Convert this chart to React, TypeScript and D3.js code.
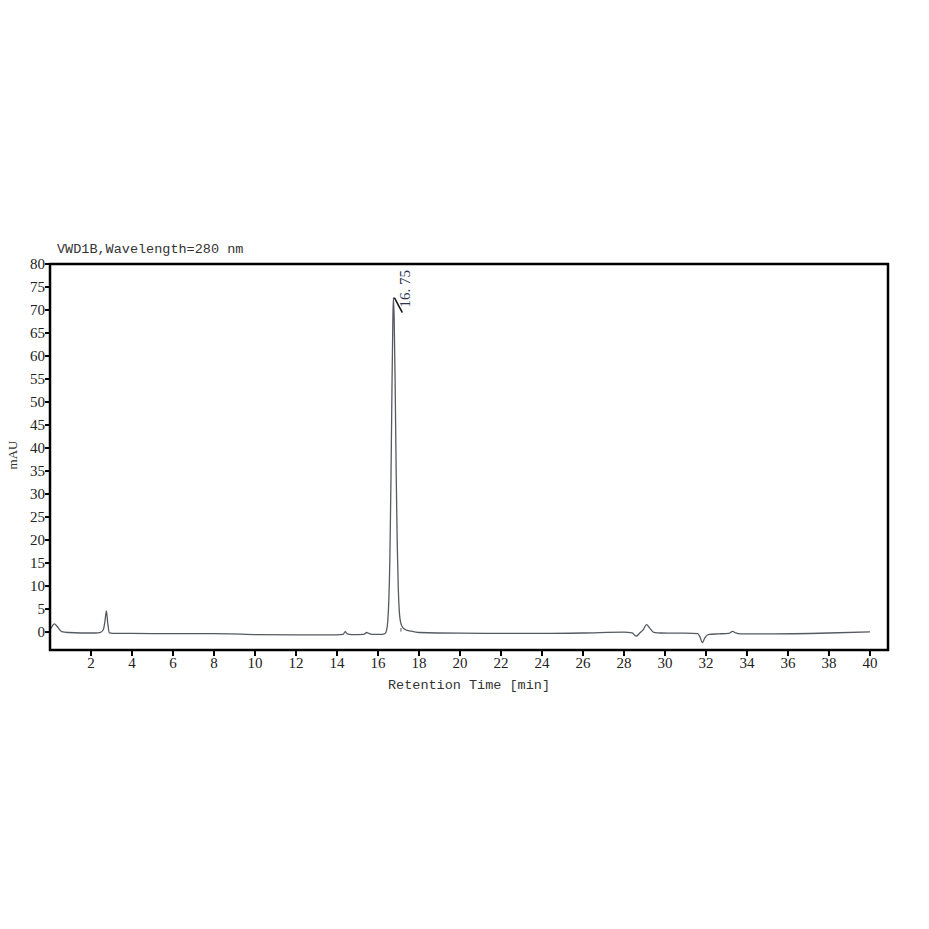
import React from "react";
import * as d3 from "d3";

const times = [0, 0.1, 0.21, 0.35, 0.57, 0.9, 1.5, 2.2, 2.44, 2.6, 2.68, 2.75, 2.82, 2.9, 3.05, 4, 6, 8, 8.8, 10, 12, 14, 14.3, 14.4, 14.5, 14.7, 15.3, 15.45, 15.55, 15.7, 16.2, 16.35, 16.42, 16.48, 16.53, 16.58, 16.63, 16.68, 16.72, 16.75, 16.79, 16.84, 16.89, 16.94, 16.99, 17.04, 17.1, 17.2, 17.35, 17.6, 18, 20, 24, 26, 28, 28.4, 28.6, 28.75, 28.95, 29.1, 29.25, 29.45, 29.8, 31, 31.6, 31.72, 31.82, 31.95, 32.15, 32.6, 33.1, 33.3, 33.45, 33.7, 35, 38, 40];
const values = [0.6, 1.2, 1.8, 1.2, 0.1, -0.1, -0.2, -0.2, -0.1, 0.5, 2.3, 4.6, 1.8, -0.2, -0.3, -0.3, -0.35, -0.35, -0.4, -0.55, -0.6, -0.6, -0.5, 0.1, -0.4, -0.55, -0.5, -0.1, -0.3, -0.5, -0.5, -0.3, 0.4, 2.5, 7, 16, 32, 52, 66, 72.7, 68, 53, 34, 19, 9.5, 4.5, 2.2, 1.0, 0.5, 0.2, -0.1, -0.25, -0.3, -0.2, 0, -0.2, -0.9, -0.3, 0.6, 1.6, 0.9, -0.05, -0.2, -0.25, -0.35, -1.2, -2.3, -1.2, -0.5, -0.4, -0.3, 0.15, -0.2, -0.4, -0.4, -0.2, 0.05];

const xTicks = [2, 4, 6, 8, 10, 12, 14, 16, 18, 20, 22, 24, 26, 28, 30, 32, 34, 36, 38, 40];
const yTicks = [0, 5, 10, 15, 20, 25, 30, 35, 40, 45, 50, 55, 60, 65, 70, 75, 80];
const peakLabels = [{ t: 16.75, v: 72.7, label: "16. 75" }];
const baselineMarks = [17.12];

const title = "VWD1B,Wavelength=280 nm";
const xLabel = "Retention Time [min]";
const yLabel = "mAU";

export default function App() {
  const W = 929, H = 929;
  const left = 50, right = 888, top = 264, bottom = 650;
  const x = d3.scaleLinear().domain([0, 40.88]).range([left, right]);
  const y = d3.scaleLinear().domain([-3.9, 80]).range([bottom, top]);
  const pts = times.map((t, i) => [t, values[i]] as [number, number]);
  const line = d3.line<[number, number]>().x(d => x(d[0])).y(d => y(d[1])).curve(d3.curveMonotoneX);
  const serif = "'Liberation Serif', 'Times New Roman', serif";
  const mono = "'Liberation Mono', 'DejaVu Sans Mono', monospace";
  return (
    <svg width={W} height={H} style={{ position: "absolute", left: 0, top: 0, background: "#fff" }}>
      <rect x={0} y={0} width={W} height={H} fill="#fff" />
      <text x={57} y={253} fontFamily={mono} fontSize={13.5} fill="#333">{title}</text>
      <path d={line(pts) || ""} fill="none" stroke="#555a60" strokeWidth={1.3} />
      {baselineMarks.map((t, i) => (
        <line key={i} x1={x(t)} x2={x(t)} y1={y(0) - 4} y2={y(0.1)} stroke="#555a60" strokeWidth={1} />
      ))}
      {peakLabels.map((p, i) => (
        <g key={i}>
          <line x1={x(p.t) + 1} y1={y(p.v)} x2={x(p.t) + 9} y2={y(p.v) + 15} stroke="#111" strokeWidth={1.5} />
          <text transform={`translate(${x(p.t) + 17},${y(p.v) + 10}) rotate(-90)`} fontFamily={serif} fontSize={15} fill="#2a3550">{p.label}</text>
        </g>
      ))}
      <rect x={left} y={top} width={right - left} height={bottom - top} fill="none" stroke="#000" strokeWidth={2.5} />
      {yTicks.map(v => (
        <g key={v}>
          <line x1={left - 5} x2={left} y1={y(v)} y2={y(v)} stroke="#000" strokeWidth={2} />
          <text x={left - 5} y={y(v)} dy="0.35em" textAnchor="end" fontFamily={serif} fontSize={15} fill="#222">{v}</text>
        </g>
      ))}
      {xTicks.map(v => (
        <g key={v}>
          <line x1={x(v)} x2={x(v)} y1={bottom} y2={bottom + 6} stroke="#000" strokeWidth={2} />
          <text x={x(v)} y={bottom + 18} textAnchor="middle" fontFamily={serif} fontSize={15} fill="#222">{v}</text>
        </g>
      ))}
      <text x={469} y={689} textAnchor="middle" fontFamily={mono} fontSize={13.5} fill="#333">{xLabel}</text>
      <text transform={`translate(17,455) rotate(-90)`} textAnchor="middle" fontFamily={serif} fontSize={13} fill="#333">{yLabel}</text>
    </svg>
  );
}
